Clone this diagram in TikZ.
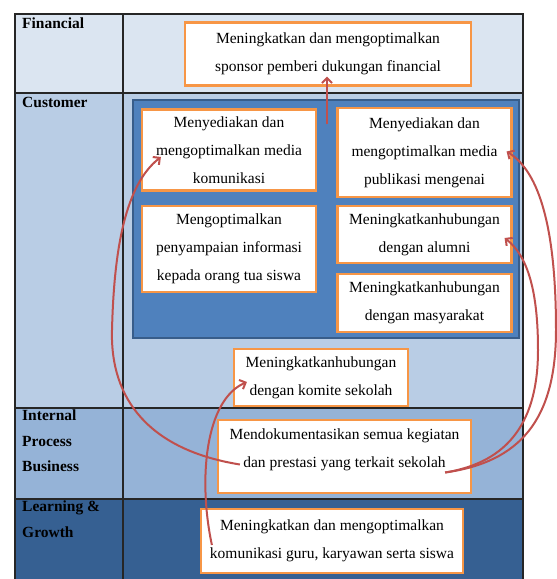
\documentclass[tikz,border=0pt]{standalone}
\usepackage{fontspec}
\setmainfont{Liberation Serif}
\usetikzlibrary{arrows.meta,calc}
\definecolor{rowfin}{HTML}{DBE5F1}
\definecolor{rowcus}{HTML}{B9CDE5}
\definecolor{rowint}{HTML}{95B3D7}
\definecolor{rowlea}{HTML}{366092}
\definecolor{contfill}{HTML}{4F81BD}
\definecolor{contline}{HTML}{385D8A}
\definecolor{boxorange}{HTML}{F79646}
\definecolor{arrowred}{HTML}{C0504D}
\definecolor{gridline}{HTML}{262626}
\begin{document}
\begin{tikzpicture}[x=1pt,y=-1pt,
  box/.style={draw=boxorange, line width=2.2pt, fill=white, inner sep=0pt, align=center,
    font=\fontsize{15.5}{28}\selectfont},
  txt/.style={align=center, inner sep=0pt, font=\fontsize{15.5}{28}\selectfont},
  lbl/.style={anchor=north west, align=left, inner sep=0pt, font=\bfseries\fontsize{15.5}{25.5}\selectfont},
  link/.style={draw=arrowred, line width=2pt, -{Straight Barb[length=5pt,width=10pt]}},
  grid/.style={draw=gridline, line width=1.2pt}]
\useasboundingbox (0,0) rectangle (557,579);

% table rows
\fill[rowfin] (15,14) rectangle (523,93);
\fill[rowcus] (15,93) rectangle (523,408);
\fill[rowint] (15,408) rectangle (523,499);
\fill[rowlea] (15,499) rectangle (523,585);
\draw[grid] (15,585) -- (15,14) -- (523,14) -- (523,585);
\draw[grid] (123,14) -- (123,585);
\draw[grid] (15,93) -- (523,93);
\draw[grid] (15,408) -- (523,408);
\draw[grid] (15,499) -- (523,499);

% row labels
\node[lbl] (lfin) at (22,18) {Financial};
\node[lbl] (lcus) at (22,97) {Customer};
\node[lbl] (lint) at (22,410) {Internal\\Process\\Business};
\node[lbl] (llea) at (22,501) {Learning \&\\Growth};

% customer container
\node[draw=contline, fill=contfill, line width=1.5pt, minimum width=386pt, minimum height=238pt, inner sep=0pt] (cont) at (326,219) {};

% boxes
\node[box, minimum width=286pt, minimum height=63pt] (fin) at (328,54) {Meningkatkan dan mengoptimalkan\\sponsor pemberi dukungan financial};
\node[box, minimum width=174pt, minimum height=81pt] (b1) at (229,150) {Menyediakan dan\\mengoptimalkan media\\komunikasi};
\node[box, minimum width=174pt, minimum height=89pt] (b2) at (424.5,152.5) {Menyediakan dan\\mengoptimalkan media\\publikasi mengenai};
\node[box, minimum width=174pt, minimum height=86pt] (b3) at (229,249) {Mengoptimalkan\\penyampaian informasi\\kepada orang tua siswa};
\node[box, minimum width=174pt, minimum height=57pt] (b4) at (424.5,234.5) {Meningkatkanhubungan\\dengan alumni};
\node[box, minimum width=174pt, minimum height=58pt] (b5) at (424.5,303) {Meningkatkanhubungan\\dengan masyarakat};
\node[box, minimum width=174pt, minimum height=57pt] (b6) at (321,377.5) {Meningkatkanhubungan\\dengan komite sekolah};
\node[box, minimum width=253pt, minimum height=73pt] (b7) at (344.5,456.5) {};
\node[txt] (b7t) at (344.5,450) {Mendokumentasikan semua kegiatan\\dan prestasi yang terkait sekolah};
\node[box, minimum width=262pt, minimum height=64pt] (b8) at (332,541) {Meningkatkan dan mengoptimalkan\\komunikasi guru, karyawan serta siswa};

% connectors
\coordinate (e1s) at ($(cont.north)+(1,25)$);
\coordinate (e1t) at ($(fin.south)+(-1,-10)$);
\draw[link] (e1s) -- (e1t);

\coordinate (a8) at ($(b8.west)+(12,4)$);
\coordinate (a6) at ($(b6.west)+(14,4.5)$);
\draw[link] (a8) .. controls (198,480) and (205,400) .. (a6);

\coordinate (a7l) at ($(b7.west)+(23,8)$);
\coordinate (a1) at ($(b1.west)+(20,7)$);
\draw[link] (a7l) .. controls (150,450) and (110,400) .. (112,330) .. controls (114,250) and (125,185) .. (a1);

\coordinate (a7r) at ($(b7.east)+(-27,16)$);
\coordinate (a2) at ($(b2.east)+(-6,-1)$);
\coordinate (a4) at ($(b4.east)+(-8,3.5)$);
\draw[link] (a7r) .. controls (520,462) and (556,420) .. (556,330) .. controls (556,230) and (540,172) .. (a2);
\draw[link] (a7r) .. controls (510,462) and (538,420) .. (538,350) .. controls (538,292) and (528,256) .. (a4);
\end{tikzpicture}
\end{document}
